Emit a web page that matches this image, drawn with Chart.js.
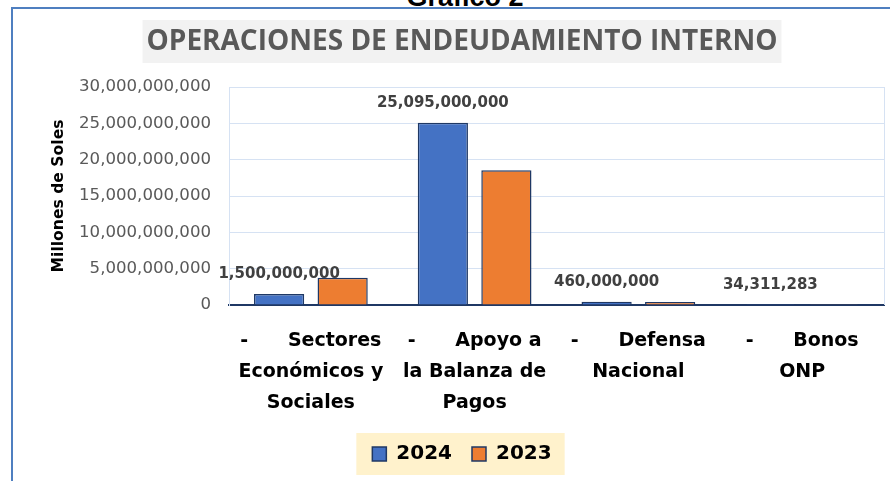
<!DOCTYPE html>
<html>
<head>
<meta charset="utf-8">
<script src="https://cdn.jsdelivr.net/npm/chart.js@4"></script>
<style>
  html, body { margin: 0; padding: 0; background: #fff; overflow: hidden; }
  #marco {
    position: absolute; left: 11px; top: 7px; width: 900px; height: 500px;
    border-left: 2px solid #4f7fc0; border-top: 2px solid #4f7fc0;
  }
  #grafico {
    position: absolute; left: 0; width: 890px; top: -16px; text-align: center;
    font: bold 27px "Liberation Sans", Arial, sans-serif; color: #000; line-height: 27px;
    padding-left: 40px; box-sizing: border-box;
  }
  canvas { position: absolute; left: 0; top: 0; }
</style>
</head>
<body>
<div id="marco"></div>
<div id="grafico">Gráfico 2</div>
<canvas id="chart" width="890" height="481"></canvas>
<script>
// Datos del gráfico
const categorias = [
  ['-      Sectores', 'Económicos y', 'Sociales'],
  ['-      Apoyo a', 'la Balanza de', 'Pagos'],
  ['-      Defensa', 'Nacional'],
  ['-      Bonos', 'ONP']
];
const valores2024 = [1500000000, 25095000000, 460000000, 34311283];
const valores2023 = [3750000000, 18550000000, 420000000, 30000000];
const ticksY = [0, 5000000000, 10000000000, 15000000000, 20000000000, 25000000000, 30000000000];

const fuente = '"DejaVu Sans", sans-serif';
const fmt = v => v.toLocaleString('en-US');

// Fondo gris del título
const fondoTitulo = {
  id: 'fondoTitulo',
  beforeDraw(chart) {
    const t = chart.titleBlock;
    if (!t) return;
    const ctx = chart.ctx;
    const f = Chart.helpers.toFont(t.options.font);
    ctx.save();
    ctx.font = f.string;
    const w = ctx.measureText(t.options.text).width;
    const cx = (t.left + t.right) / 2;
    ctx.fillStyle = '#F2F2F2';
    ctx.fillRect(cx - w / 2 - 4, 20, w + 8, 43);
    ctx.restore();
  }
};

// Fondo amarillo de la leyenda
const fondoLeyenda = {
  id: 'fondoLeyenda',
  beforeDraw(chart) {
    const lg = chart.legend;
    if (!lg || !lg.legendHitBoxes || !lg.legendHitBoxes.length) return;
    const hb = lg.legendHitBoxes;
    const first = hb[0], last = hb[hb.length - 1];
    const cy = first.top + first.height / 2;
    const ctx = chart.ctx;
    ctx.save();
    ctx.fillStyle = '#FFF2CC';
    ctx.fillRect(first.left - 16, cy - 21, last.left + last.width + 13 - (first.left - 16), 42);
    ctx.restore();
  }
};

// Borde derecho del área de trazado
const bordeArea = {
  id: 'bordeArea',
  beforeDatasetsDraw(chart) {
    const a = chart.chartArea;
    const ctx = chart.ctx;
    ctx.save();
    ctx.strokeStyle = '#D6E2F3';
    ctx.lineWidth = 1;
    ctx.beginPath();
    ctx.moveTo(Math.round(a.right) + 0.5, a.top);
    ctx.lineTo(Math.round(a.right) + 0.5, a.bottom);
    ctx.stroke();
    ctx.restore();
  }
};

// Etiquetas de valor de la serie 2024
const etiquetas = {
  id: 'etiquetas',
  afterDatasetsDraw(chart) {
    const ctx = chart.ctx;
    const meta = chart.getDatasetMeta(0);
    ctx.save();
    ctx.font = 'bold 15px ' + fuente;
    ctx.fillStyle = '#404040';
    ctx.textAlign = 'center';
    ctx.textBaseline = 'middle';
    meta.data.forEach((bar, i) => {
      ctx.fillText(fmt(valores2024[i]), bar.x, bar.y - 20);
    });
    ctx.restore();
  }
};

new Chart(document.getElementById('chart'), {
  type: 'bar',
  data: {
    labels: categorias,
    datasets: [{
      label: '2024',
      data: valores2024,
      backgroundColor: '#4472C4',
      borderColor: '#1F3864',
      borderWidth: 1.5,
      categoryPercentage: 0.776,
      barPercentage: 0.79
    }, {
      label: '2023',
      data: valores2023,
      backgroundColor: '#ED7D31',
      borderColor: '#1F3864',
      borderWidth: 1.5,
      categoryPercentage: 0.776,
      barPercentage: 0.79
    }]
  },
  options: {
    responsive: false,
    animation: false,
    devicePixelRatio: 1,
    layout: { padding: { left: 40, right: 6, top: 0, bottom: 7 } },
    plugins: {
      title: {
        display: true,
        text: 'OPERACIONES DE ENDEUDAMIENTO INTERNO',
        color: '#595959',
        font: { family: '"Open Sans", sans-serif', size: 28, weight: 'bold', lineHeight: 1.2 },
        padding: { top: 25, bottom: 28.4 }
      },
      legend: {
        position: 'bottom',
        labels: {
          boxWidth: 14,
          boxHeight: 14,
          padding: 20,
          color: '#000',
          font: { family: fuente, size: 20, weight: 'bold' }
        }
      },
      tooltip: { enabled: false }
    },
    scales: {
      x: {
        grid: { display: false },
        border: { color: '#1F3864', width: 2 },
        ticks: {
          color: '#000',
          padding: 13,
          maxRotation: 0,
          autoSkip: false,
          font: { family: fuente, size: 19, weight: 'bold', lineHeight: 1.63 }
        },
        afterFit(scale) { scale.height = 119; }
      },
      y: {
        min: ticksY[0],
        max: ticksY[ticksY.length - 1],
        afterBuildTicks(scale) { scale.ticks = ticksY.map(v => ({ value: v })); },
        grid: { color: '#D6E2F3', drawTicks: false },
        border: { color: '#D6E2F3' },
        ticks: {
          color: '#595959',
          padding: 18,
          font: { family: fuente, size: 16.6 },
          callback: v => fmt(v)
        },
        title: {
          display: true,
          text: 'Millones de Soles',
          color: '#000',
          font: { family: fuente, size: 15.6, weight: 'bold', lineHeight: 1.2 },
          padding: { top: 9.6, bottom: 0 }
        },
        afterFit(scale) { scale.width = 189; }
      }
    }
  },
  plugins: [fondoTitulo, fondoLeyenda, bordeArea, etiquetas]
});
</script>
</body>
</html>
